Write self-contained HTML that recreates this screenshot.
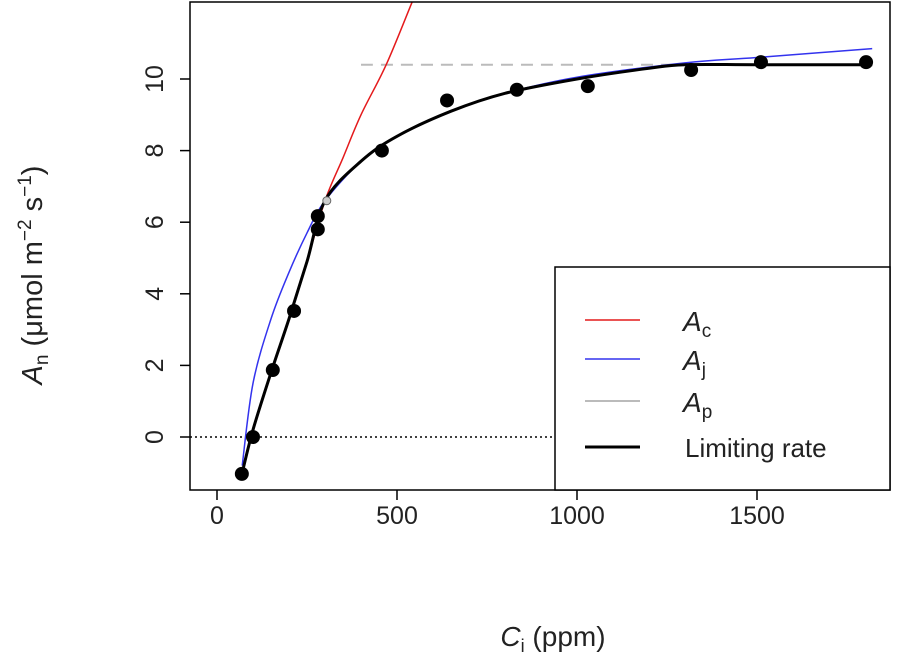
<!DOCTYPE html>
<html><head><meta charset="utf-8"><style>
body{margin:0;background:#fff}
svg{display:block;font-family:"Liberation Sans",Arial,sans-serif}
</style></head><body>
<svg id="chart" width="898" height="668" viewBox="0 0 898 668">
<defs><clipPath id="pc"><rect x="190" y="2" width="700" height="488"/></clipPath></defs>
<g id="marks" clip-path="url(#pc)"></g>
<rect x="190" y="2" width="700" height="488" fill="none" stroke="#000" stroke-width="1.5"/>
<g id="axes"></g>
<g>
<rect x="555" y="267" width="335" height="223" fill="#fff" stroke="#000" stroke-width="1.5"/>
<line x1="585" y1="320" x2="640" y2="320" stroke="#e41a1c" stroke-width="1.5"/>
<text x="683" y="331" font-size="28" font-style="italic" fill="#222">A<tspan font-size="19" font-style="normal" dy="6">c</tspan></text>
<line x1="585" y1="359" x2="640" y2="359" stroke="#3333ee" stroke-width="1.5"/>
<text x="683" y="370" font-size="28" font-style="italic" fill="#222">A<tspan font-size="19" font-style="normal" dy="6">j</tspan></text>
<line x1="585" y1="401" x2="640" y2="401" stroke="#bbb" stroke-width="2"/>
<text x="683" y="412" font-size="28" font-style="italic" fill="#222">A<tspan font-size="19" font-style="normal" dy="6">p</tspan></text>
<line x1="585" y1="447" x2="640" y2="447" stroke="#000" stroke-width="3"/>
<text x="685" y="457" font-size="26" fill="#222">Limiting rate</text>
</g>
<text x="553" y="646" font-size="28" text-anchor="middle" fill="#222"><tspan font-style="italic">C</tspan><tspan font-size="18" dy="6">i</tspan><tspan dy="-6"> (ppm)</tspan></text>
<text transform="translate(42,275) rotate(-90)" font-size="29" text-anchor="middle" fill="#222"><tspan font-style="italic">A</tspan><tspan font-size="19" dy="6">n</tspan><tspan dy="-6">  (μmol m</tspan><tspan font-size="19" dy="-11">−2</tspan><tspan dy="11"> s</tspan><tspan font-size="19" dy="-11">−1</tspan><tspan dy="11">)</tspan></text>
</svg>
<script>
const xTicks=[0,500,1000,1500];
const yTicks=[0,2,4,6,8,10];
const acCi=[70,100,150,200,250,300,350,400,470,540,560];
const acA=[-1.0,0.2,1.8,3.3,4.9,6.6,7.8,9.0,10.4,12.1,12.6];
const ajCi=[70,100,150,200,250,300,400,500,650,800,1000,1300,1500,1820];
const ajA=[-0.8,1.5,3.3,4.6,5.7,6.6,7.7,8.4,9.1,9.6,10.05,10.45,10.6,10.85];
const apCi=[400,1820];
const apA=[10.4,10.4];
const limCi=[70,100,150,200,250,300,400,500,650,800,1000,1200,1300,1500,1820];
const limA=[-1.0,0.2,1.8,3.3,4.9,6.6,7.7,8.4,9.1,9.6,10.0,10.3,10.4,10.4,10.4];
const obsCi=[69,100,155,214,280,280,458,639,833,1030,1317,1511,1803];
const obsA=[-1.03,0.0,1.87,3.52,5.8,6.17,8.0,9.4,9.7,9.8,10.25,10.47,10.47];
const sx=v=>217+v*0.36, sy=v=>437-v*35.8;
const NS="http://www.w3.org/2000/svg";
const marks=document.getElementById('marks'), axes=document.getElementById('axes');
function mk(tag,attrs,parent){const e=document.createElementNS(NS,tag);for(const k in attrs)e.setAttribute(k,attrs[k]);parent.appendChild(e);return e;}
function path(xs,ys){
  const P=xs.map((x,i)=>[sx(x),sy(ys[i])]);
  let d='M'+P[0][0].toFixed(1)+','+P[0][1].toFixed(1);
  for(let i=0;i<P.length-1;i++){
    const p0=P[i-1]||P[i],p1=P[i],p2=P[i+1],p3=P[i+2]||p2;
    const c1=[p1[0]+(p2[0]-p0[0])/6,p1[1]+(p2[1]-p0[1])/6];
    const c2=[p2[0]-(p3[0]-p1[0])/6,p2[1]-(p3[1]-p1[1])/6];
    d+='C'+c1.map(v=>v.toFixed(1)).join(',')+' '+c2.map(v=>v.toFixed(1)).join(',')+' '+p2.map(v=>v.toFixed(1)).join(',');
  }
  return d;
}
let z=mk('line',{x1:190,x2:555,y1:sy(0),y2:sy(0),stroke:'#000','stroke-width':1.5,'stroke-dasharray':'2,3'},marks);


let ap=mk('path',{d:path(apCi,apA),fill:'none',stroke:'#bbb','stroke-width':2,'stroke-dasharray':'12,8'},marks);


let aj=mk('path',{d:path(ajCi,ajA),fill:'none',stroke:'#3333ee','stroke-width':1.5},marks);


let ac=mk('path',{d:path(acCi,acA),fill:'none',stroke:'#e41a1c','stroke-width':1.5},marks);


let lim=mk('path',{d:path(limCi,limA),fill:'none',stroke:'#000','stroke-width':3},marks);


obsCi.forEach((c,i)=>{let p=mk('circle',{cx:sx(c),cy:sy(obsA[i]),r:7,fill:'#000'},marks);

});
let tr=mk('circle',{cx:sx(305),cy:sy(6.6),r:4,fill:'#ccc',stroke:'#666'},marks);


xTicks.forEach(t=>{let l=mk('line',{x1:sx(t),x2:sx(t),y1:490,y2:500,stroke:'#000','stroke-width':1.5},axes);


let tx=mk('text',{x:sx(t),y:524,'font-size':25,'text-anchor':'middle',fill:'#222'},axes);tx.textContent=t;

});
yTicks.forEach(t=>{let l=mk('line',{x1:180,x2:190,y1:sy(t),y2:sy(t),stroke:'#000','stroke-width':1.5},axes);


let tx=mk('text',{transform:`translate(163,${sy(t)}) rotate(-90)`,'font-size':25,'text-anchor':'middle',fill:'#222'},axes);tx.textContent=t;

});
</script>
</body></html>
